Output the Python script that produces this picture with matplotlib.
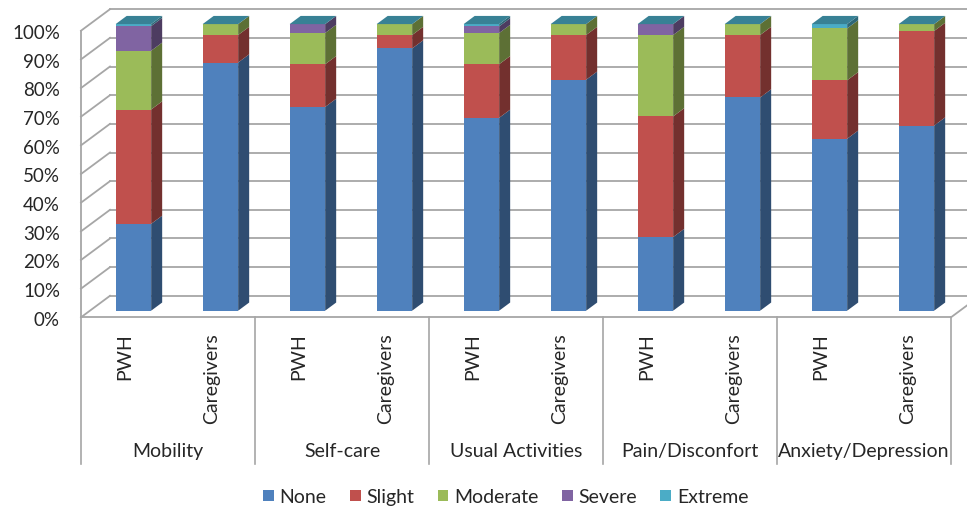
import matplotlib.pyplot as plt
from matplotlib.patches import Polygon, Patch
import matplotlib.colors as mcolors

plt.rcParams['font.family'] = ['Lato', 'DejaVu Sans']

groups = ['Mobility', 'Self-care', 'Usual Activities', 'Pain/Disconfort', 'Anxiety/Depression']
subgroups = ['PWH', 'Caregivers']
series = ['None', 'Slight', 'Moderate', 'Severe', 'Extreme']
none = [30.3, 86.6, 71.1, 91.5, 67.3, 80.6, 25.7, 74.4, 60.0, 64.6]
slight = [39.9, 9.6, 14.9, 4.7, 18.7, 15.6, 42.1, 21.8, 20.4, 33.0]
moderate = [20.5, 3.8, 10.9, 3.8, 10.9, 3.8, 28.4, 3.8, 18.1, 2.4]
severe = [8.6, 0, 3.1, 0, 2.3, 0, 3.8, 0, 0, 0]
extreme = [0.7, 0, 0, 0, 0.8, 0, 0, 0, 1.5, 0]
yticks = [0, 10, 20, 30, 40, 50, 60, 70, 80, 90, 100]

colors = ['#4F81BD', '#C0504D', '#9BBB59', '#8064A2', '#4BACC6']
grid_color = '#A6A6A6'
text_color = '#262626'


def shade(c, f):
    r, g, b = mcolors.to_rgb(c)
    return (r * f, g * f, b * f)


def main():
    fig = plt.figure(figsize=(9.67, 5.10), dpi=100)
    ax = fig.add_axes([0, 0, 1, 1])
    # one x unit = one bar slot (87 px), one y unit = 1 % (2.866 px)
    px_x, px_y = 87.0, 2.866
    ax.set_xlim(-81 / px_x, (967 - 81) / px_x)
    ax.set_ylim((318.3 - 510) / px_y, 318.3 / px_y)
    ax.axis('off')

    n = len(none)
    # oblique depth of the chart box and of the bars
    depth_x, depth_y = 29 / px_x, 21.5 / px_y
    front_frac, bar_frac = 0.307, 0.38
    width = 35.5 / px_x

    # walls and floor
    for v in yticks:
        ax.plot([0, depth_x], [v, v + depth_y], color=grid_color, lw=1.3, zorder=1)
        ax.plot([depth_x, 20], [v + depth_y, v + depth_y], color=grid_color, lw=1.3, zorder=1)
    ax.plot([0, 0], [0, 100], color=grid_color, lw=1.3, zorder=1)
    ax.plot([0, n], [0, 0], color=grid_color, lw=1.3, zorder=1)
    ax.plot([n, n + depth_x], [0, depth_y], color=grid_color, lw=1.3, zorder=1)

    for v in yticks:
        ax.text(-21 / px_x, v - 0.6, '%d%%' % v, ha='right', va='center',
                fontsize=13.5, color=text_color)

    # bars, front face sits part way into the box depth
    data = [none, slight, moderate, severe, extreme]
    x0 = front_frac * depth_x
    y0 = front_frac * depth_y
    xs = [i + 0.5 + x0 for i in range(n)]
    bdx, bdy = bar_frac * depth_x, bar_frac * depth_y
    bottoms = [y0] * n
    for k, vals in enumerate(data):
        ax.bar(xs, vals, width=width, bottom=bottoms, color=colors[k], zorder=3)
        for i in range(n):
            b = bottoms[i]
            t = bottoms[i] + vals[i]
            xr = xs[i] + width / 2
            if vals[i] > 0:
                side = Polygon([(xr, b), (xr + bdx, b + bdy), (xr + bdx, t + bdy), (xr, t)],
                               closed=True, facecolor=shade(colors[k], 0.6),
                               edgecolor='none', zorder=3)
                ax.add_patch(side)
        bottoms = [bottoms[i] + vals[i] for i in range(n)]

    # lid of each stack (drawn by the zero/extreme top segment)
    for i in range(n):
        xl = xs[i] - width / 2
        xr = xs[i] + width / 2
        t = bottoms[i]
        top = Polygon([(xl, t), (xr, t), (xr + bdx, t + bdy), (xl + bdx, t + bdy)],
                      closed=True, facecolor=shade(colors[4], 0.75),
                      edgecolor='none', zorder=3)
        ax.add_patch(top)

    # category axis
    lab_top = (318.3 - 333) / px_y
    div_bot = (318.3 - 465) / px_y
    grp_y = (318.3 - 451.7) / px_y
    for g in range(len(groups) + 1):
        ax.plot([2 * g, 2 * g], [0, div_bot], color=grid_color, lw=1.2, zorder=1)
    for i in range(n):
        ax.text(i + 0.5, lab_top, subgroups[i % 2], rotation=90, ha='center',
                va='top', fontsize=14, color=text_color)
    for g, name in enumerate(groups):
        ax.text(2 * g + 1, grp_y, name, ha='center', va='center',
                fontsize=14, color=text_color)

    handles = [Patch(facecolor=c, edgecolor='none') for c in colors]
    fig.legend(handles, series, loc='center', bbox_to_anchor=(0.523, 0.024), ncol=5,
               frameon=False, fontsize=14, handlelength=0.55, handleheight=0.55,
               handletextpad=0.3, columnspacing=1.2, labelcolor=text_color)

    fig.savefig('out.png', dpi=100)


if __name__ == '__main__':
    main()
